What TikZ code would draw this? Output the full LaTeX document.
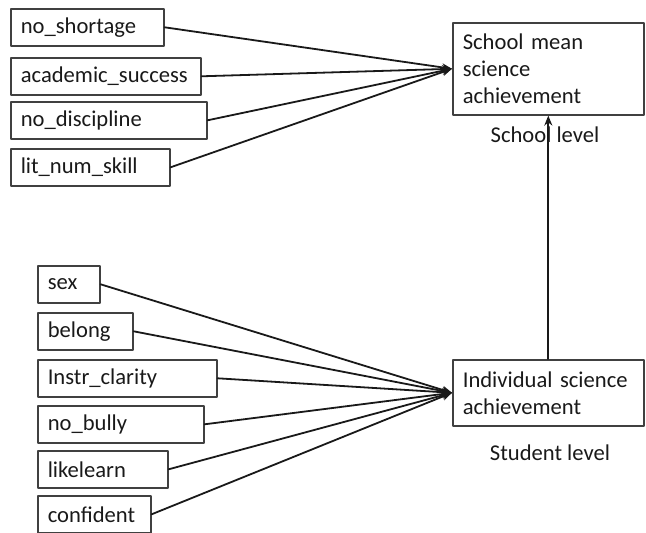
\documentclass[tikz,border=0pt]{standalone}
\usepackage{fontspec}
\setmainfont{Carlito}
\usetikzlibrary{arrows.meta,positioning}
\tikzset{
  every picture/.style={line join=round, line cap=round, >={Stealth[length=5pt,width=4pt]}},
  var/.style={draw=black!75, line width=0.8pt, anchor=north west, align=left,
    inner xsep=5pt, minimum height=18.5pt, text=black!90,
    font=\fontsize{11.3}{13.5}\selectfont},
  outcome/.style={var, text width=85.5pt},
  level/.style={text=black!90, font=\fontsize{11.3}{13.5}\selectfont},
  effect/.style={->, line width=0.9pt, draw=black!90},
}

\begin{document}
\begin{tikzpicture}[x=0.5pt,y=-0.5pt]
\useasboundingbox (0,0) rectangle (646,533);
% school level
\node[var, text width=66.5pt] (noshort) at (10,8) {no\_shortage};
\node[var, text width=85pt] (acad) at (10,57) {academic\_success};
\node[var, text width=88pt] (nodisc) at (10,101) {no\_discipline};
\node[var, text width=69.5pt] (litnum) at (10,148) {lit\_num\_skill};
\node[outcome, minimum height=46pt] (school) at (452,22)
  {School mean\\science\\achievement};
\node[level] (schlev) at (545,135) {School level};
% student level
\node[var, text width=21pt] (sex) at (37,265) {sex};
\node[var, text width=37.5pt] (belong) at (37,312) {belong};
\node[var, text width=79.5pt] (instr) at (37,359) {Instr\_clarity};
\node[var, text width=73pt] (nobully) at (37,405) {no\_bully};
\node[var, text width=55pt] (like) at (37,450) {likelearn};
\node[var, text width=46.5pt] (conf) at (37,495) {confident};
\node[outcome, minimum height=33pt] (indiv) at (452,359)
  {Individual science\\achievement};
\node[level] (stulev) at (550,453) {Student level};
% paths to school outcome
\draw[effect] (noshort.east) -- (school.west);
\draw[effect] (acad.east) -- (school.west);
\draw[effect] (nodisc.east) -- (school.west);
\draw[effect] (litnum.east) -- (school.west);
% paths to student outcome
\draw[effect] (sex.east) -- (indiv.west);
\draw[effect] (belong.east) -- (indiv.west);
\draw[effect] (instr.east) -- (indiv.west);
\draw[effect] (nobully.east) -- (indiv.west);
\draw[effect] (like.east) -- (indiv.west);
\draw[effect] (conf.east) -- (indiv.west);
% between levels
\draw[effect] (indiv.north) -- (school.south);
\end{tikzpicture}
\end{document}
